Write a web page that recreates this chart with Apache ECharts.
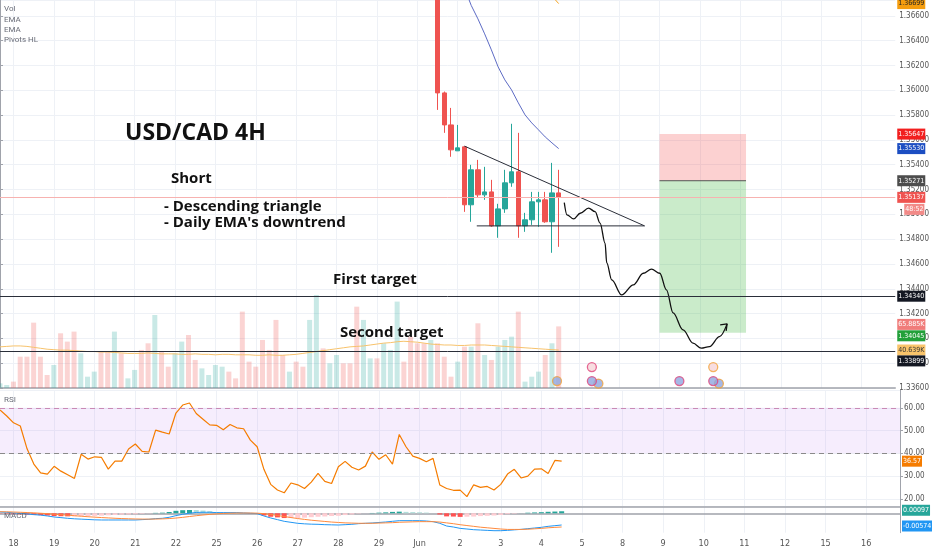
<!DOCTYPE html>
<html>
<head>
<meta charset="utf-8">
<title>USD/CAD 4H</title>
<script src="https://cdn.jsdelivr.net/npm/echarts@6.0.0/dist/echarts.min.js"></script>
<style>
  html, body { margin: 0; padding: 0; background: #fff; }
  #main { width: 932px; height: 550px; }
</style>
</head>
<body>
<div id="main"></div>
<script>
// time axis: one category per 4H bar, a label on the first bar of each session
var days = ['18', '19', '20', '21', '22', '25', '26', '27', '28', '29', 'Jun', '2', '3', '4', '5', '8', '9', '10', '11', '12', '15', '16'];
var barsPerDay = 6;
var firstDayBar = 2;
var totalBars = 134;

// candles visible in the price window (1 Jun - 4 Jun), first one at bar 65
var candleStart = 65;
var candleOpen  = [1.3700, 1.35979, 1.35721, 1.35512, 1.35544, 1.35077, 1.35359, 1.35157, 1.35181, 1.34907, 1.35044, 1.35254, 1.35343, 1.34907, 1.34956, 1.35101, 1.35117, 1.34940, 1.35173];
var candleClose = [1.35979, 1.35721, 1.35520, 1.35536, 1.35077, 1.35359, 1.35157, 1.35181, 1.34907, 1.35044, 1.35254, 1.35343, 1.34907, 1.34956, 1.35101, 1.35117, 1.34940, 1.35173, 1.35137];
var candleLow   = [1.35842, 1.35657, 1.35464, 1.35512, 1.35020, 1.34940, 1.35133, 1.35117, 1.34899, 1.34811, 1.35012, 1.35222, 1.34811, 1.34859, 1.34915, 1.34899, 1.34932, 1.34690, 1.34738];
var candleHigh  = [1.3705, 1.3599, 1.35858, 1.35721, 1.3555, 1.35399, 1.35439, 1.35383, 1.35278, 1.35085, 1.35359, 1.35730, 1.35657, 1.35012, 1.35181, 1.35181, 1.35181, 1.35415, 1.35359];

// EMAs (only the part inside the window)
var emaFastStart = 69;
var emaFast = [1.36826, 1.36685, 1.36576, 1.36455, 1.36326, 1.36189, 1.36084, 1.36003, 1.35899, 1.35802, 1.35737, 1.35681, 1.35624, 1.35576, 1.35530];
var emaSlowStart = 81;
var emaSlow = [1.3680, 1.3676, 1.36699];

// volume (K) and its average, bars 0..83
var volume = [5, 3.2, 6.8, 33.5, 33.5, 69.9, 33.5, 13.9, 24.6, 58.5,
  49.6, 60.3, 37.1, 12.1, 17.5, 38.9, 38.9, 60.3, 37.1, 10.3,
  19.3, 40.7, 47.8, 78.1, 38.9, 22.8, 37.1, 49.6, 56.7, 30,
  21.0, 13.9, 24.6, 22.8, 17.5, 10.3, 81.7, 28.2, 22.8, 51.4,
  40.7, 72.8, 35.3, 17.5, 28.2, 22.8, 72.8, 99.5, 42.4, 26.4,
  35.3, 26.4, 26.4, 87, 72.8, 31.7, 31.7, 47.8, 40.7, 92.4,
  28.2, 54.9, 47.8, 47.8, 51.4, 47.8, 33.5, 12.1, 28.2, 44.2,
  44.2, 69.2, 35.3, 30, 44.2, 51.4, 54.9, 81.7, 6.8, 12.1,
  17.5, 35.3, 47.8, 65.885];
var volUp = [1, 1, 0, 0, 0, 0, 0, 0, 1, 0,
  0, 0, 1, 1, 1, 0, 0, 1, 0, 1,
  1, 0, 0, 1, 0, 0, 1, 1, 0, 0,
  1, 1, 1, 1, 0, 0, 0, 0, 0, 0,
  0, 0, 0, 1, 0, 0, 1, 1, 0, 1,
  1, 0, 0, 0, 1, 1, 0, 1, 1, 1,
  0, 0, 0, 0, 1, 0, 0, 0, 1, 0,
  1, 0, 1, 0, 1, 1, 1, 0, 1, 1,
  1, 0, 1, 0];
var volMA = [44, 44.5, 45, 45, 44.5, 43.5, 42.5, 41.5, 41, 40.5,
  40.5, 40, 39.5, 39, 39, 38.5, 38.5, 38, 37.5, 37,
  37, 37, 37.5, 37, 36.5, 36.5, 36.5, 36, 36, 36.5,
  36, 36, 35.5, 36, 36, 35.5, 35.5, 35.5, 35, 35,
  35.5, 35, 35, 35.5, 36, 37, 38, 39, 40, 41,
  42, 43, 44, 44.5, 45, 46, 47, 48, 48.5, 49.5,
  50, 49.5, 49, 48, 47, 46.5, 46, 46, 45.5, 45.5,
  46, 46, 46, 45.5, 45, 44.5, 44, 43.5, 43, 42.5,
  42, 41.5, 41, 40.639];

// RSI, bars 0..83
var rsi = [59.0, 56.4, 53.4, 52.0, 42.0, 35.3, 31.4, 30.9, 34.3, 32.2,
  30.6, 29.0, 39.6, 37.5, 38.5, 38.2, 33.1, 36.6, 36.6, 41.9,
  44.1, 40.9, 40.6, 50.2, 49.3, 48.5, 57.7, 61.2, 62.1, 57.5,
  55.0, 52.5, 52.3, 50.4, 52.7, 51.2, 50.8, 45.8, 42.9, 33.0,
  26.4, 23.9, 22.7, 27.0, 26.2, 24.6, 27.4, 31.2, 27.7, 26.8,
  34.1, 36.5, 33.9, 32.7, 34.4, 40.6, 37.4, 39.4, 35.3, 48.3,
  42.9, 38.8, 37.8, 36.3, 37.8, 26.1, 24.6, 23.8, 23.9, 21.0,
  26.2, 25.1, 25.5, 23.9, 26.4, 30.9, 33.0, 29.2, 30.0, 33.1,
  33.2, 31.2, 36.9, 36.57];

// MACD, signal and histogram, bars 0..83
var macd = [0.0006, 0.00048, 0.00015, -0.00002, -0.00034, -0.00067, -0.00092, -0.00132, -0.00182, -0.00214,
  -0.00247, -0.00271, -0.00288, -0.00304, -0.00321, -0.00329, -0.00329, -0.00329, -0.00329, -0.00329,
  -0.00329, -0.00312, -0.00296, -0.00263, -0.00247, -0.00198, -0.00116, -0.00051, 0.0, 0.00039,
  0.00048, 0.00048, 0.00031, 0.00031, 0.00031, 0.00031, 0.00015, 0.0, -0.00018, -0.00132,
  -0.00231, -0.00312, -0.00394, -0.00443, -0.00492, -0.00517, -0.00533, -0.00541, -0.00558, -0.00566,
  -0.00574, -0.00558, -0.00541, -0.00508, -0.00492, -0.00476, -0.00451, -0.00427, -0.00394, -0.00362,
  -0.00362, -0.00362, -0.00362, -0.00378, -0.00411, -0.00492, -0.00623, -0.00672, -0.00738, -0.0077,
  -0.00803, -0.00819, -0.00836, -0.00852, -0.00852, -0.00836, -0.00811, -0.00787, -0.00754, -0.00721,
  -0.00688, -0.00639, -0.00607, -0.00574];
var signal = [0.00075, 0.0007, 0.0006, 0.00048, 0.00035, 0.0002, 0.0, -0.0002, -0.00045, -0.0007,
  -0.00095, -0.0012, -0.00145, -0.0017, -0.0019, -0.0021, -0.00228, -0.00245, -0.0026, -0.0027,
  -0.0028, -0.00285, -0.00287, -0.00282, -0.00275, -0.0026, -0.00235, -0.002, -0.0016, -0.0012,
  -0.00085, -0.00055, -0.0003, -0.0001, 0.00002, 0.0001, 0.00012, 0.0001, 0.00005, -0.0002,
  -0.0006, -0.0011, -0.0016, -0.0021, -0.0026, -0.003, -0.0034, -0.0037, -0.004, -0.0043,
  -0.0045, -0.0047, -0.0048, -0.0049, -0.0049, -0.0049, -0.0048, -0.0047, -0.0046, -0.0044,
  -0.0043, -0.0042, -0.0041, -0.0041, -0.0041, -0.0043, -0.0047, -0.0051, -0.0056, -0.006,
  -0.0064, -0.0068, -0.0071, -0.0074, -0.0077, -0.0079, -0.0079, -0.0079, -0.0078, -0.0076,
  -0.0074, -0.0071, -0.0069, -0.00671];
var hist = [-0.00015, -0.00022, -0.00045, -0.0005, -0.00069, -0.00087, -0.00092, -0.00112, -0.00137, -0.00144,
  -0.00152, -0.00151, -0.00143, -0.00134, -0.00131, -0.00119, -0.00101, -0.00084, -0.00069, -0.00059,
  -0.00049, -0.00027, -0.00009, 0.00019, 0.00028, 0.00062, 0.00119, 0.00149, 0.0016, 0.00159,
  0.00133, 0.00103, 0.00061, 0.00041, 0.00029, 0.00021, 0.00003, -0.0001, -0.00023, -0.00112,
  -0.00171, -0.00202, -0.00234, -0.00233, -0.00232, -0.00217, -0.00193, -0.00171, -0.00158, -0.00136,
  -0.00124, -0.00088, -0.00061, -0.00018, -0.00002, 0.00014, 0.00029, 0.00043, 0.00066, 0.00078,
  0.00068, 0.00058, 0.00048, 0.00032, -0.00001, -0.00062, -0.00153, -0.00162, -0.00178, -0.0017,
  -0.00163, -0.00139, -0.00126, -0.00112, -0.00082, -0.00046, -0.00021, 0.00003, 0.00026, 0.00039,
  0.00052, 0.00071, 0.00083, 0.00097];

// drawings, in [bar, price]
var triangle = [[69, 1.3555], [95.76, 1.34907], [70.83, 1.34907]];
var forecastPath = [[83.83, 1.35095], [84.23, 1.34996], [85.22, 1.34963], [86.2, 1.35009], [87.44, 1.35050],
  [88.41, 1.35022], [89.15, 1.34929], [89.89, 1.34767], [90.14, 1.34608], [90.88, 1.34471],
  [92.36, 1.34350], [94.09, 1.34431], [95.57, 1.34525], [96.79, 1.34558], [98.02, 1.34525],
  [99.01, 1.34391], [100.0, 1.34205], [101.48, 1.34068], [102.96, 1.33961], [104.18, 1.33921],
  [105.41, 1.33934], [106.89, 1.34014], [108.02, 1.34117]];
var arrowHead = [[106.99, 1.34109], [108.02, 1.34117], [107.88, 1.34060]];
var positionBars = [97.98, 110.83];
var stopPrice = 1.35647, entryPrice = 1.35271, targetPrice = 1.34045;
var firstTarget = 1.3434, secondTarget = 1.33899;

// economic calendar flags along the bottom: [bar, price row], ring colour, country
var eventPos = [[82.75, 1.33656], [88.9, 1.33636], [87.93, 1.33656], [87.93, 1.33769], [100.93, 1.33656], [106.8, 1.33636], [105.96, 1.33656], [105.96, 1.33769]];
var eventRing = ['#f2a33a', '#f2a33a', '#e0457b', '#e0457b', '#e0457b', '#f2a33a', '#e0457b', '#f2a33a'];
var eventCountry = ['US', 'US', 'US', 'CA', 'US', 'US', 'US', 'CA'];

var NARROW = "'Liberation Sans Narrow', 'DejaVu Sans Condensed', Roboto, sans-serif";
var TEXT = "'Open Sans', 'DejaVu Sans', sans-serif";
var HIDDEN = { color: 'rgba(0,0,0,0)', width: 1 };

var dayLabel = [];
var cats = [];
for (var i = 0; i < totalBars; i++) { dayLabel.push(''); cats.push('b' + i); }
days.forEach(function (d, k) { dayLabel[firstDayBar + k * barsPerDay] = d; });

function pad(arr, start) {
    var out = [];
    for (var i = 0; i < totalBars; i++) {
        var k = i - start;
        out.push(k >= 0 && k < arr.length ? arr[k] : '-');
    }
    return out;
}

function isDay(idx) { return dayLabel[idx] !== ''; }

function fmt(n) { return function (p) { return p.value.toFixed(n); }; }

// price tag on the right axis
function tag(value, bg, fg, text, line, offset) {
    return {
        yAxis: value,
        lineStyle: line || HIDDEN,
        label: {
            show: true, position: 'end', distance: 2, formatter: text, opacity: 1,
            backgroundColor: bg, color: fg, padding: [2, 1, 2, 1],
            fontSize: 7, fontFamily: NARROW, offset: offset || [0, 0]
        }
    };
}

function tags(list) {
    return { symbol: ['none', 'none'], silent: true, precision: 5, data: list };
}

var candles = pad(candleOpen.map(function (o, k) {
    return [o, candleClose[k], candleLow[k], candleHigh[k]];
}), candleStart);

var volData = pad(volume.map(function (v, k) {
    return { value: v, itemStyle: { color: volUp[k] ? 'rgba(38,166,154,0.25)' : 'rgba(239,83,80,0.25)' } };
}), 0);

var histData = pad(hist.map(function (h, k) {
    var prev = k > 0 ? hist[k - 1] : h;
    var c;
    if (h >= 0) c = h >= prev ? '#26a69a' : '#b2dfdb';
    else c = h <= prev ? '#ff5252' : '#ffcdd2';
    return { value: h, itemStyle: { color: c } };
}), 0);

var eventData = eventPos.map(function (p, k) {
    return {
        value: p,
        itemStyle: {
            color: eventCountry[k] === 'US' ? '#8fa6e0' : '#f6d4d8',
            borderColor: eventRing[k], borderWidth: 1.3
        }
    };
});

function catAxis(grid, showLabels) {
    return {
        type: 'category', gridIndex: grid, data: cats, boundaryGap: false,
        axisLine: { show: true, lineStyle: { color: '#a0a3ab', width: 1.5 } },
        axisTick: { show: false },
        axisLabel: {
            show: showLabels, interval: function (idx) { return isDay(idx); },
            formatter: function (v, idx) { return dayLabel[idx]; },
            color: '#555', fontSize: 9, fontFamily: NARROW, margin: 6
        },
        splitLine: { show: true, interval: function (idx) { return isDay(idx); }, lineStyle: { color: '#eef1f6' } }
    };
}

function note(x, y, text, font, color) {
    return { type: 'text', x: x, y: y, z: 100, silent: true,
        style: { text: text, font: font, fill: color, verticalAlign: 'middle' } };
}

var chart = echarts.init(document.getElementById('main'));

var option = {
    animation: false,
    backgroundColor: '#ffffff',
    grid: [
        { left: 0, right: 32, top: 0, height: 388 },
        { left: 0, right: 32, top: 390, height: 116.7 },
        { left: 0, right: 32, top: 506.7, height: 26 }
    ],
    xAxis: [
        catAxis(0, false),
        { type: 'value', gridIndex: 0, min: 0, max: totalBars - 1, show: false },
        catAxis(1, false),
        catAxis(2, true)
    ],
    yAxis: [
        {
            type: 'value', gridIndex: 0, position: 'right', min: 1.336, max: 1.36728, interval: 0.002,
            axisLine: { show: true, lineStyle: { color: '#a0a3ab' } },
            axisTick: { show: true, length: 3, lineStyle: { color: '#a0a3ab' } },
            axisLabel: { color: '#555', fontSize: 8, fontFamily: NARROW, margin: 4, showMaxLabel: false,
                formatter: function (v) { return v.toFixed(5); } },
            splitLine: { show: true, lineStyle: { color: '#eef1f6' } }
        },
        { type: 'value', gridIndex: 0, min: 0, max: 415, show: false, splitLine: { show: false } },
        {
            type: 'value', gridIndex: 1, position: 'right', min: 16.6, max: 67.8, splitNumber: 5,
            axisLine: { show: true, lineStyle: { color: '#a0a3ab' } },
            axisTick: { show: true, length: 3, lineStyle: { color: '#a0a3ab' } },
            axisLabel: { color: '#555', fontSize: 8, fontFamily: NARROW, margin: 4,
                showMinLabel: false, showMaxLabel: false,
                formatter: function (v) { return v.toFixed(2); } },
            splitLine: { show: true, lineStyle: { color: '#eef1f6' } }
        },
        {
            type: 'value', gridIndex: 2, position: 'right', min: -0.0095, max: 0.0032,
            axisLine: { show: true, lineStyle: { color: '#a0a3ab' } },
            axisTick: { show: false }, axisLabel: { show: false }, splitLine: { show: false }
        }
    ],
    series: [
        {
            name: 'Vol', type: 'bar', xAxisIndex: 0, yAxisIndex: 1, barWidth: 5,
            data: volData, silent: true,
            markLine: tags([
                tag(volume[volume.length - 1], '#f07c7a', '#fff', function (p) { return p.value.toFixed(3) + 'K'; }, null, [0, -2])
            ])
        },
        {
            name: 'Vol MA', type: 'line', xAxisIndex: 0, yAxisIndex: 1, data: pad(volMA, 0),
            symbol: 'none', silent: true, lineStyle: { color: '#f7c26b', width: 1 },
            markLine: tags([
                tag(volMA[volMA.length - 1], '#f9c46b', '#333', function (p) { return p.value.toFixed(3) + 'K'; })
            ])
        },
        {
            name: 'USDCAD', type: 'candlestick', xAxisIndex: 0, yAxisIndex: 0, barWidth: 5,
            data: candles, silent: true,
            itemStyle: { color: '#26a69a', color0: '#ef5350', borderColor: '#26a69a', borderColor0: '#ef5350' },
            markLine: tags([
                tag(candleClose[candleClose.length - 1], '#ef5350', '#fff', fmt(5),
                    { color: '#f7b2b0', width: 1, type: 'solid' }),
                tag(candleClose[candleClose.length - 1], '#f28a88', '#fff', '48:52', null, [7, 12]),
                tag(firstTarget, '#131722', '#fff', fmt(5), { color: '#2a2e39', width: 1, type: 'solid' }),
                tag(secondTarget, '#131722', '#fff', fmt(5), { color: '#2a2e39', width: 1, type: 'solid' }, [0, 10])
            ])
        },
        {
            name: 'EMA', type: 'line', xAxisIndex: 0, yAxisIndex: 0, data: pad(emaFast, emaFastStart),
            symbol: 'none', silent: true, lineStyle: { color: '#5d6bc4', width: 1 },
            markLine: tags([tag(emaFast[emaFast.length - 1], '#1c4ec2', '#fff', fmt(5))])
        },
        {
            name: 'EMA slow', type: 'line', xAxisIndex: 0, yAxisIndex: 0, data: pad(emaSlow, emaSlowStart),
            symbol: 'none', silent: true, lineStyle: { color: '#f5a623', width: 1 },
            markLine: tags([tag(emaSlow[emaSlow.length - 1], '#f59d0e', '#222', fmt(5))])
        },
        {
            name: 'Position', type: 'line', xAxisIndex: 1, yAxisIndex: 0,
            data: [[positionBars[0], entryPrice], [positionBars[1], entryPrice]],
            symbol: 'none', silent: true, lineStyle: { color: '#555', width: 1 },
            markArea: { silent: true, data: [
                [{ coord: [positionBars[0], stopPrice], itemStyle: { color: 'rgba(244,70,70,0.25)' } },
                 { coord: [positionBars[1], entryPrice] }],
                [{ coord: [positionBars[0], entryPrice], itemStyle: { color: 'rgba(60,180,60,0.27)' } },
                 { coord: [positionBars[1], targetPrice] }]
            ] },
            markLine: tags([
                tag(stopPrice, '#f21f1f', '#fff', fmt(5)),
                tag(entryPrice, '#4d4d4d', '#fff', fmt(5)),
                tag(targetPrice, '#22a03a', '#fff', fmt(5), null, [0, 3])
            ])
        },
        {
            name: 'Triangle', type: 'line', xAxisIndex: 1, yAxisIndex: 0, data: triangle,
            symbol: 'none', silent: true, lineStyle: { color: '#2a2e39', width: 1 }
        },
        {
            name: 'Forecast', type: 'line', xAxisIndex: 1, yAxisIndex: 0, data: forecastPath,
            symbol: 'none', silent: true, smooth: 0.35, smoothMonotone: 'x',
            lineStyle: { color: '#111', width: 1.3 }
        },
        {
            name: 'Arrow', type: 'line', xAxisIndex: 1, yAxisIndex: 0, data: arrowHead,
            symbol: 'none', silent: true, lineStyle: { color: '#111', width: 1.3 }
        },
        {
            name: 'Events', type: 'scatter', xAxisIndex: 1, yAxisIndex: 0, data: eventData,
            symbol: 'circle', symbolSize: 9, silent: true, z: 5
        },
        {
            name: 'RSI', type: 'line', xAxisIndex: 2, yAxisIndex: 2, data: pad(rsi, 0),
            symbol: 'none', silent: true, lineStyle: { color: '#f57c00', width: 1.2 },
            markArea: { silent: true, itemStyle: { color: 'rgba(200,140,240,0.16)' },
                data: [[{ yAxis: 40 }, { yAxis: 60 }]] },
            markLine: tags([
                { yAxis: 60, label: { show: false }, lineStyle: { color: '#c98ab5', width: 1, type: [5, 4] } },
                { yAxis: 40, label: { show: false }, lineStyle: { color: '#8a8a8a', width: 1, type: [5, 4] } },
                tag(rsi[rsi.length - 1], '#f57c00', '#fff', fmt(2))
            ])
        },
        {
            name: 'Histogram', type: 'bar', xAxisIndex: 3, yAxisIndex: 3, barWidth: 5,
            data: histData, silent: true,
            markLine: tags([tag(hist[hist.length - 1], '#26a69a', '#fff', fmt(5), null, [0, -1])])
        },
        {
            name: 'MACD', type: 'line', xAxisIndex: 3, yAxisIndex: 3, data: pad(macd, 0),
            symbol: 'none', silent: true, lineStyle: { color: '#2196f3', width: 1 },
            markLine: tags([tag(macd[macd.length - 1], '#2196f3', '#fff', fmt(5), null, [0, 1])])
        },
        {
            name: 'Signal', type: 'line', xAxisIndex: 3, yAxisIndex: 3, data: pad(signal, 0),
            symbol: 'none', silent: true, lineStyle: { color: '#ff8a3d', width: 1 }
        }
    ],
    graphic: [
        note(4, 9, 'Vol', '8px Roboto', '#6a6d78'),
        note(4, 19.5, 'EMA', '8px Roboto', '#6a6d78'),
        note(4, 29.5, 'EMA', '8px Roboto', '#6a6d78'),
        note(4, 39.5, 'Pivots HL', '8px Roboto', '#6a6d78'),
        note(4, 400, 'RSI', '8px Roboto', '#6a6d78'),
        note(4, 516, 'MACD', '8px Roboto', '#6a6d78'),
        note(125, 133.4, 'USD/CAD 4H', 'bold 23px ' + TEXT, '#111'),
        note(171, 178.6, 'Short', 'bold 15px ' + TEXT, '#111'),
        note(164, 206.3, '- Descending triangle', 'bold 15px ' + TEXT, '#111'),
        note(164, 222.9, "- Daily EMA's downtrend", 'bold 15px ' + TEXT, '#111'),
        note(333, 279.6, 'First target', 'bold 15px ' + TEXT, '#111'),
        note(340, 332.3, 'Second target', 'bold 15px ' + TEXT, '#111')
    ]
};

chart.setOption(option);
</script>
</body>
</html>
